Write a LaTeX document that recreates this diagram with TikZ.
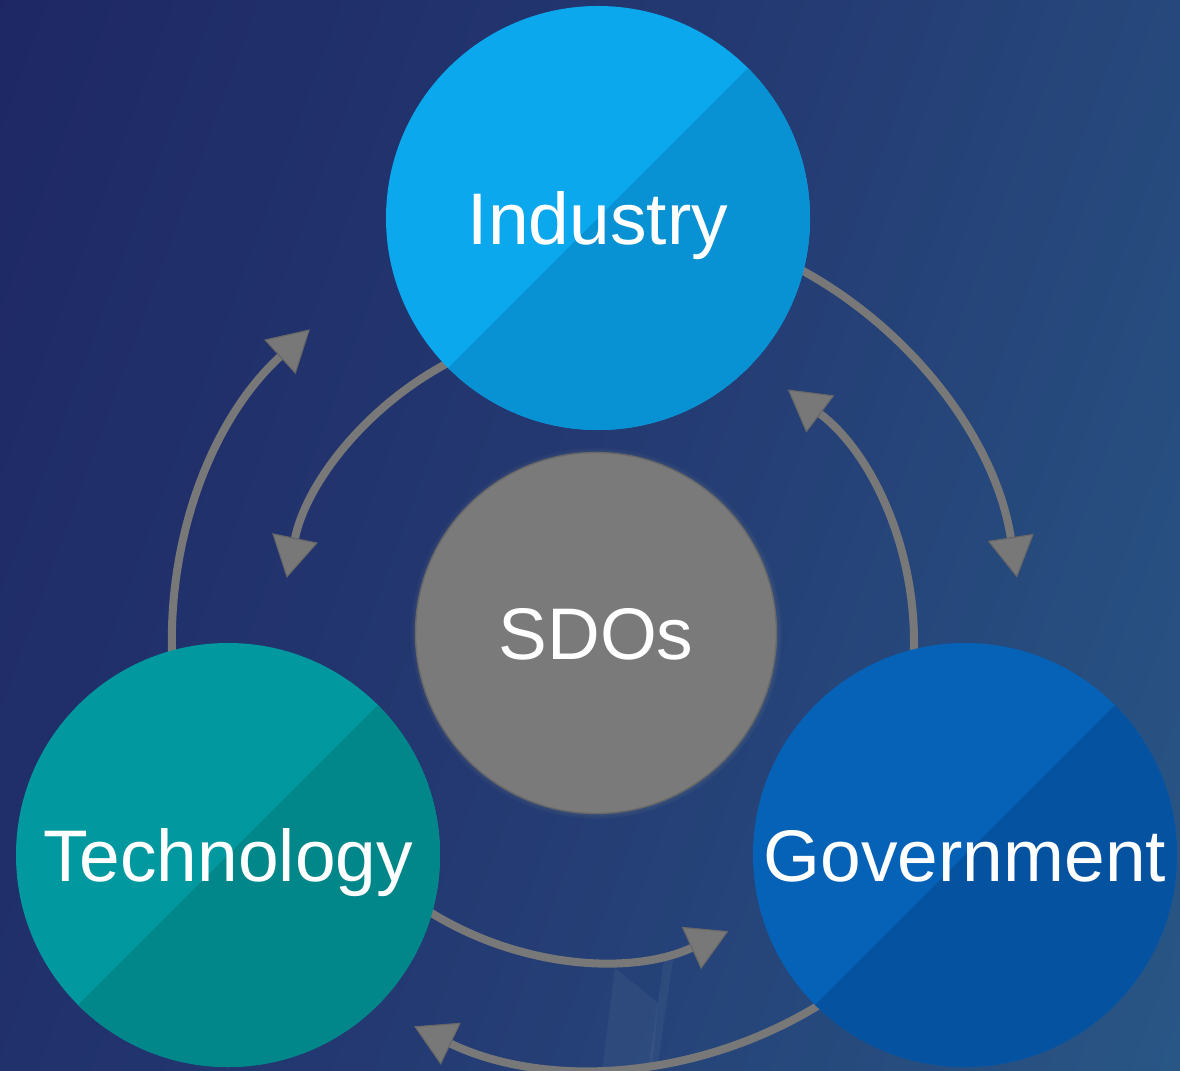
\documentclass[tikz,border=0pt]{standalone}
\usepackage{fontspec}
\setmainfont{Liberation Sans}
\usetikzlibrary{arrows.meta,shadows,calc}

\definecolor{bgnavy}{HTML}{1A1D5C}
\definecolor{bgmid}{HTML}{243A72}
\definecolor{bgteal}{HTML}{2B6690}
\definecolor{indlight}{HTML}{0BA8EE}
\definecolor{inddark}{HTML}{0891D3}
\definecolor{techlight}{HTML}{01999F}
\definecolor{techdark}{HTML}{01868A}
\definecolor{govlight}{HTML}{0562B6}
\definecolor{govdark}{HTML}{0552A0}
\definecolor{sdofill}{HTML}{7A7A7A}
\definecolor{sdoedge}{HTML}{686868}
\definecolor{sdoglow}{HTML}{B8B48C}
\definecolor{arrowgray}{HTML}{787878}
\definecolor{tipedge}{HTML}{676767}

\pgfdeclarehorizontalshading{backdrop}{100bp}{color(0bp)=(bgnavy); color(50bp)=(bgmid); color(100bp)=(bgteal)}
\pgfdeclarelayer{back}
\pgfdeclarelayer{arcs}
\pgfsetlayers{back,arcs,main}

\begin{document}
\begin{tikzpicture}[x=0.25mm, y=-0.25mm,
	actor/.style={circle, minimum size=106mm, inner sep=0pt, text=white,
		font=\fontsize{52}{60}\selectfont, text height=37pt, text depth=0pt},
	halves/.style 2 args={fill=#1, path picture={
		\fill[#2] (path picture bounding box.south west) -- (path picture bounding box.north east)
			-- (path picture bounding box.south east) -- cycle;}},
	hub/.style={circle, minimum size=90.25mm, inner sep=0pt, text=white, fill=sdofill,
		draw=sdoedge, line width=1pt,
		font=\fontsize{52}{60}\selectfont, text height=37pt, text depth=0pt,
		general shadow={fill=sdoglow, opacity=0.6, shadow scale=1.03,
			path fading=circle with fuzzy edge 15 percent}},
	flow/.style={line width=5.7pt, draw=arrowgray,
		-{Triangle[length=29pt, width=33pt, line width=0.8pt, color=tipedge, fill=arrowgray]}},
	]

	\useasboundingbox (0,0) rectangle (1180,1070);

	\node[actor, halves={indlight}{inddark}] (ind) at (598,218) {Industry};
	\node[actor, halves={techlight}{techdark}] (tech) at (228,855) {Technology};
	\node[actor, halves={govlight}{govdark}] (gov) at (965,855) {Government};
	\node[hub] (sdo) at (596,633) {SDOs};

	\coordinate (mid) at (barycentric cs:ind=1,tech=1,gov=1);

	\begin{pgfonlayer}{back}
		\shade[shading=backdrop, shading angle=-20] (0,0) rectangle (1180,1070);
		\fill[white, opacity=0.045] (615,968) -- (658,1003) -- (652,1070) -- (602,1070) -- cycle;
		\fill[white, opacity=0.045] (664,960) -- (673,960) -- (657,1070) -- (648,1070) -- cycle;
	\end{pgfonlayer}

	% outer ring
	\begin{pgfonlayer}{arcs}
		\draw[flow] ($(mid)+(-65:425)$) arc[start angle=-65, end angle=-8.8, radius=425];
		\draw[flow] ($(mid)+(55:425)$) arc[start angle=55, end angle=115.5, radius=425];
		\draw[flow] ($(mid)+(170:425)$) arc[start angle=170, end angle=227.5, radius=425];
	% inner ring
		\draw[flow] ($(mid)+(245:317)$) arc[start angle=245, end angle=191.8, radius=317];
		\draw[flow] ($(mid)+(5:317)$) arc[start angle=5, end angle=-53, radius=317];
		\draw[flow] ($(mid)+(125:317)$) arc[start angle=125, end angle=65.5, radius=317];
	\end{pgfonlayer}

\end{tikzpicture}
\end{document}
